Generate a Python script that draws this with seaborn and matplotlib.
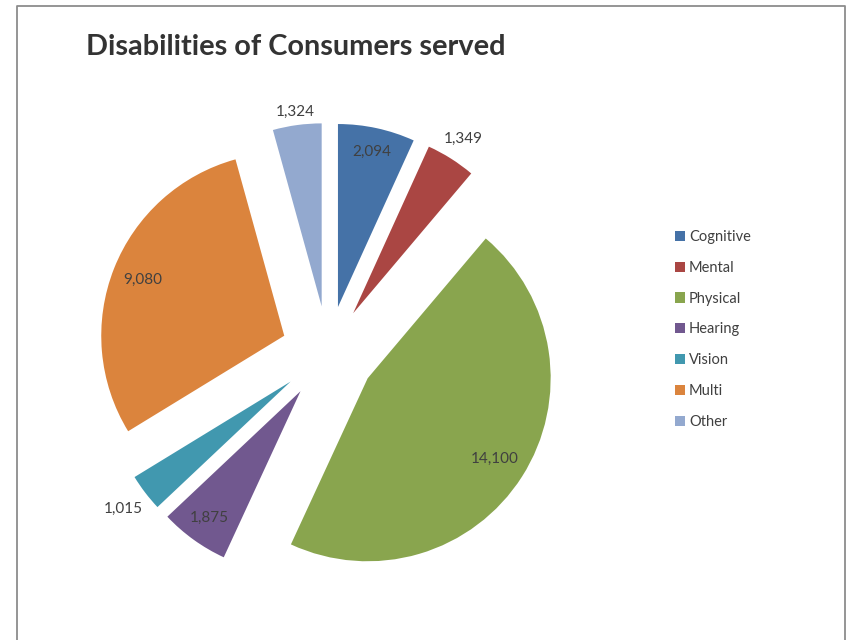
import matplotlib
matplotlib.use("Agg")
import matplotlib.pyplot as plt
import seaborn as sns
import numpy as np

# data
categories = ["Cognitive", "Mental", "Physical", "Hearing", "Vision", "Multi", "Other"]
consumers = [2094, 1349, 14100, 1875, 1015, 9080, 1324]
colors = ["#4572A7", "#AA4643", "#89A54E", "#71588F", "#4198AF", "#DB843D", "#93A9CF"]

# label distance from each slice apex (in radii), inside < 1 < outside
label_dist = [0.87, 1.13, 0.82, 0.85, 1.15, 0.83, 1.07]

sns.set_theme(style="white")
plt.rcParams['font.family'] = ['Lato', 'DejaVu Sans']

W, H = 850, 640
fig = plt.figure(figsize=(W / 100, H / 100), dpi=100)
ax = fig.add_axes([0, 0, 1, 1])

# chart frame (open at the bottom, like the cropped screenshot)
ax.plot([17, 17, 845, 845], [-5, H - 6, H - 6, -5], color="#8c8c8c", lw=1.3)

radius = 183
center = (328, H - 353)
# pie explode is in data units, so scale it by the radius
wedges, _ = ax.pie(consumers, colors=sns.color_palette(colors), startangle=90,
                   counterclock=False, radius=radius, center=center,
                   explode=[0.257 * radius] * len(consumers), frame=True,
                   wedgeprops=dict(linewidth=0))
ax.set_xlim(0, W)
ax.set_ylim(0, H)
ax.set_aspect('equal')
ax.axis('off')

for w, val, d in zip(wedges, consumers, label_dist):
    ang = np.deg2rad((w.theta1 + w.theta2) / 2)
    cx, cy = w.center
    ax.text(cx + radius * d * np.cos(ang), cy + radius * d * np.sin(ang), f"{val:,}",
            ha='center', va='center', fontsize=11, color="#404040")

fig.text(86 / W, 1 - 47 / H, "Disabilities of Consumers served", fontsize=20.8,
         fontweight='bold', color="#333333", ha='left', va='center')

leg = ax.legend(wedges, categories, loc='upper left', bbox_to_anchor=(662 / W, 1 - 217 / H),
                bbox_transform=fig.transFigure, frameon=False, fontsize=10.5,
                handlelength=0.7, handleheight=0.7, handletextpad=0.25, labelspacing=1.15,
                labelcolor="#404040")

fig.savefig("out.png", dpi=100)
